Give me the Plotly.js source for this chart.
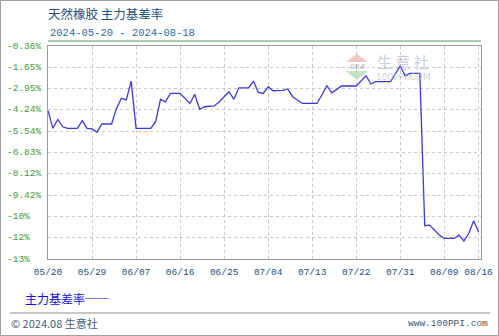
<!DOCTYPE html>
<html>
<head>
<meta charset="utf-8">
<script src="https://cdn.plot.ly/plotly-3.0.1.min.js"></script>
<style>
html,body{margin:0;padding:0;background:#fff;}
#chart{width:499px;height:336px;}
</style>
</head>
<body>
<div id="chart"></div>
<script>
// Data (date, main basis rate %)
const dates = [
  "2024-05-20","2024-05-21","2024-05-22","2024-05-23","2024-05-24","2024-05-26","2024-05-27","2024-05-28",
  "2024-05-29","2024-05-30","2024-05-31","2024-06-02","2024-06-03","2024-06-04","2024-06-05","2024-06-06",
  "2024-06-07","2024-06-10","2024-06-11","2024-06-12","2024-06-13","2024-06-14","2024-06-16","2024-06-17",
  "2024-06-18","2024-06-19","2024-06-20","2024-06-21","2024-06-23","2024-06-24","2024-06-26","2024-06-27",
  "2024-06-28","2024-06-30","2024-07-01","2024-07-02","2024-07-03","2024-07-04","2024-07-05","2024-07-07",
  "2024-07-08","2024-07-09","2024-07-11","2024-07-14","2024-07-16","2024-07-17","2024-07-19","2024-07-22",
  "2024-07-24","2024-07-25","2024-07-26","2024-07-29","2024-07-31","2024-08-01","2024-08-02","2024-08-04",
  "2024-08-05","2024-08-06","2024-08-07","2024-08-08","2024-08-09","2024-08-11","2024-08-12","2024-08-13",
  "2024-08-14","2024-08-15","2024-08-16"
];
const basisRate = [
  -4.29,-5.36,-4.82,-5.27,-5.36,-5.36,-4.90,-5.36,
  -5.40,-5.60,-5.10,-5.10,-4.15,-3.54,-3.64,-2.49,
  -5.36,-5.36,-4.96,-3.60,-3.75,-3.24,-3.24,-3.55,
  -3.85,-3.30,-4.20,-4.05,-4.00,-3.75,-3.14,-3.60,
  -2.90,-2.90,-2.49,-3.18,-3.24,-2.83,-3.08,-3.05,
  -2.97,-3.44,-3.85,-3.85,-2.77,-3.20,-2.79,-2.79,
  -2.17,-2.67,-2.53,-2.53,-1.57,-2.17,-2.02,-2.02,
  -11.28,-11.24,-11.55,-11.85,-12.05,-12.05,-11.85,-12.20,
  -11.75,-10.98,-11.65
];
const yTickVals = [-0.36,-1.655,-2.95,-4.24,-5.54,-6.83,-8.12,-9.42,-10.71,-12.01,-13.30];
const yTickText = ["-0.36%","-1.65%","-2.95%","-4.24%","-5.54%","-6.83%","-8.12%","-9.42%","-10%","-12%","-13%"];
const xTickVals = ["2024-05-20","2024-05-29","2024-06-07","2024-06-16","2024-06-25","2024-07-04","2024-07-13","2024-07-22","2024-07-31","2024-08-09","2024-08-16"];
const xTickText = ["05/20","05/29","06/07","06/16","06/25","07/04","07/13","07/22","07/31","08/09","08/16"];

const trace = {
  x: dates, y: basisRate, type: "scatter", mode: "lines",
  line: {color: "#3b3bd4", width: 1.3},
  name: "主力基差率", hoverinfo: "skip"
};

const mono = "Liberation Mono, DejaVu Sans Mono, monospace";
const cjk = "Noto Sans CJK SC, sans-serif";

// plot area in pixels: x 48..481, y 46..259
const PX = px => (px - 48) / 433;
const PY = py => (259 - py) / 213;

const yLabelAnns = yTickVals.map((v, i) => ({
  text: yTickText[i], xref: "paper", yref: "y", x: PX(5), xanchor: "left",
  y: v, yanchor: "middle", showarrow: false,
  font: {family: mono, size: 9.5, color: "#3f9a3f"}
}));

const layout = {
  width: 499, height: 336,
  margin: {l: 48, r: 18, t: 46, b: 77, pad: 0},
  paper_bgcolor: "#ffffff", plot_bgcolor: "#ffffff",
  showlegend: false,
  title: {
    text: "天然橡胶 主力基差率",
    x: 48/499, xanchor: "left", xref: "container",
    y: 1 - 15/336, yanchor: "middle", yref: "container",
    font: {family: cjk, size: 12.5, color: "#24527e"}
  },
  xaxis: {
    type: "date",
    range: ["2024-05-20", "2024-08-16 12:00"],
    tickvals: xTickVals, ticktext: xTickText,
    showgrid: true, gridcolor: "#c8c8c8", griddash: "dot", gridwidth: 1,
    showline: true, linecolor: "#9a9a9a", linewidth: 1, mirror: true,
    zeroline: false, ticks: "", ticklen: 0, ticklabelstandoff: 4,
    tickfont: {family: mono, size: 9.5, color: "#24527e"},
    fixedrange: true
  },
  yaxis: {
    range: [-13.30, -0.36],
    tickvals: yTickVals, ticktext: yTickText, showticklabels: false,
    showgrid: true, gridcolor: "#c8c8c8", griddash: "dot", gridwidth: 1,
    showline: true, linecolor: "#9a9a9a", linewidth: 1, mirror: true,
    zeroline: false, ticks: "", ticklen: 0,
    fixedrange: true
  },
  shapes: [
    {type: "rect", xref: "paper", yref: "paper", x0: PX(0.5), x1: PX(498.5), y0: PY(335.5), y1: PY(0.5),
     line: {color: "#a0a0a0", width: 1}, fillcolor: "rgba(0,0,0,0)", layer: "below"},
    {type: "line", xref: "paper", yref: "paper", x0: 0, x1: 1, y0: PY(41), y1: PY(41),
     line: {color: "#4aa070", width: 1.2}},
    {type: "line", xref: "paper", yref: "paper", x0: PX(10), x1: PX(490), y0: PY(313), y1: PY(313),
     line: {color: "#909090", width: 1}},
    // watermark logo triangles
    {type: "path", xref: "paper", yref: "paper",
     path: `M ${PX(357)} ${PY(54)} L ${PX(368)} ${PY(62)} L ${PX(346)} ${PY(62)} Z`,
     line: {width: 0}, fillcolor: "rgba(235,150,150,0.55)", layer: "below"},
    {type: "path", xref: "paper", yref: "paper",
     path: `M ${PX(346)} ${PY(71)} L ${PX(368)} ${PY(71)} L ${PX(357)} ${PY(80)} Z`,
     line: {width: 0}, fillcolor: "rgba(150,210,150,0.55)", layer: "below"}
  ],
  annotations: yLabelAnns.concat([
    {text: "2024-05-20 - 2024-08-18", xref: "paper", yref: "paper", x: 0, xanchor: "left",
     y: PY(33), yanchor: "middle", showarrow: false,
     font: {family: mono, size: 10.5, color: "#2e6a9e"}},
    {text: "生 意 社", xref: "paper", yref: "paper", x: PX(375), xanchor: "left",
     y: PY(62), yanchor: "middle", showarrow: false,
     font: {family: cjk, size: 15, color: "rgba(150,168,190,0.55)"}},
    {text: "100PPI.COM", xref: "paper", yref: "paper", x: PX(374), xanchor: "left",
     y: PY(77), yanchor: "middle", showarrow: false,
     font: {family: "DejaVu Sans, sans-serif", size: 9, color: "rgba(165,172,185,0.55)"}},
    {text: "易联通", xref: "paper", yref: "paper", x: PX(357), xanchor: "center",
     y: PY(66.5), yanchor: "middle", showarrow: false,
     font: {family: cjk, size: 5, color: "rgba(120,120,140,0.6)"}},
    {text: "主力基差率──", xref: "paper", yref: "paper", x: PX(23), xanchor: "left",
     y: PY(298), yanchor: "middle", showarrow: false,
     font: {family: cjk, size: 12, color: "#1010d0"}},
    {text: "© 2024.08 生意社", xref: "paper", yref: "paper", x: PX(9), xanchor: "left",
     y: PY(323), yanchor: "middle", showarrow: false,
     font: {family: cjk, size: 11, color: "#3c5a78"}},
    {text: "www.100PPI.com", xref: "paper", yref: "paper", x: PX(490), xanchor: "right",
     y: PY(323), yanchor: "middle", showarrow: false,
     font: {family: mono, size: 9.5, color: "#3c5a78"}}
  ])
};

Plotly.newPlot("chart", [trace], layout, {staticPlot: true, displayModeBar: false});
</script>
</body>
</html>
